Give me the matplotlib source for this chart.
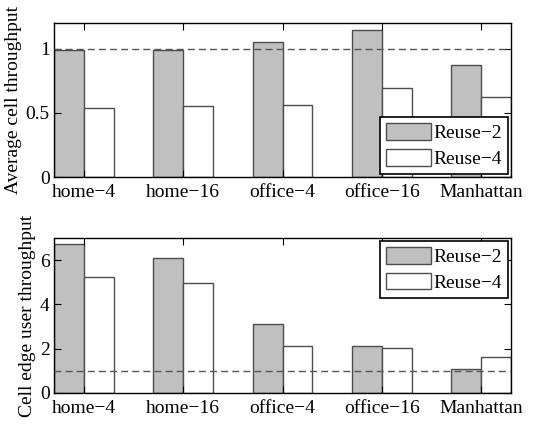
import numpy as np
import matplotlib
matplotlib.use('Agg')
import matplotlib.pyplot as plt

plt.rcParams['font.family'] = ['Liberation Serif', 'DejaVu Serif']
plt.rcParams['font.size'] = 14

categories = ['home\u22124', 'home\u221216', 'office\u22124', 'office\u221216', 'Manhattan']
avg_reuse2 = [0.99, 0.99, 1.05, 1.143, 0.87]
avg_reuse4 = [0.537, 0.55, 0.56, 0.69, 0.62]
edge_reuse2 = [6.72, 6.11, 3.10, 2.11, 1.09]
edge_reuse4 = [5.23, 4.95, 2.11, 2.01, 1.63]
labels = ['Reuse\u22122', 'Reuse\u22124']

x = np.arange(1, len(categories) + 1)
w = 0.3
edge = '#4d4d4d'

fig = plt.figure(figsize=(5.37, 4.25), dpi=100)
ax1 = fig.add_axes([0.1006, 0.5835, 0.851, 0.3624])
ax2 = fig.add_axes([0.1006, 0.0753, 0.851, 0.3647])

def draw(ax, a, b, ylim, yticks, ylabel, loc):
    ax.bar(x - w / 2, a, w, color='#c0c0c0', edgecolor=edge, linewidth=1.0, label=labels[0])
    ax.bar(x + w / 2, b, w, color='white', edgecolor=edge, linewidth=1.0, label=labels[1])
    ax.axhline(1, color='#555555', linestyle=(0, (5, 3)), linewidth=1.0, zorder=3)
    ax.set_xlim(0.7, 5.3)
    ax.set_ylim(*ylim)
    ax.set_xticks(x)
    ax.set_xticklabels(categories)
    ax.set_yticks(yticks)
    ax.set_ylabel(ylabel, labelpad=3)
    ax.tick_params(direction='in', top=True, right=True, length=5, width=0.8)
    ax.tick_params(axis='x', pad=5)
    ax.tick_params(axis='y', pad=3)
    for s in ax.spines.values():
        s.set_linewidth(1.0)
    leg = ax.legend(loc=loc, fancybox=False, edgecolor='black', framealpha=1,
                    handlelength=2.3, handleheight=0.95, borderpad=0.3,
                    labelspacing=0.35, handletextpad=0.15, borderaxespad=0.15)
    leg.get_frame().set_linewidth(1.2)

draw(ax1, avg_reuse2, avg_reuse4, (0, 1.2), [0, 0.5, 1], 'Average cell throughput', 'lower right')
ax1.set_yticklabels(['0', '0.5', '1'])
draw(ax2, edge_reuse2, edge_reuse4, (0, 7), [0, 2, 4, 6], 'Cell edge user throughput', 'upper right')

fig.savefig('out.png', dpi=100)
